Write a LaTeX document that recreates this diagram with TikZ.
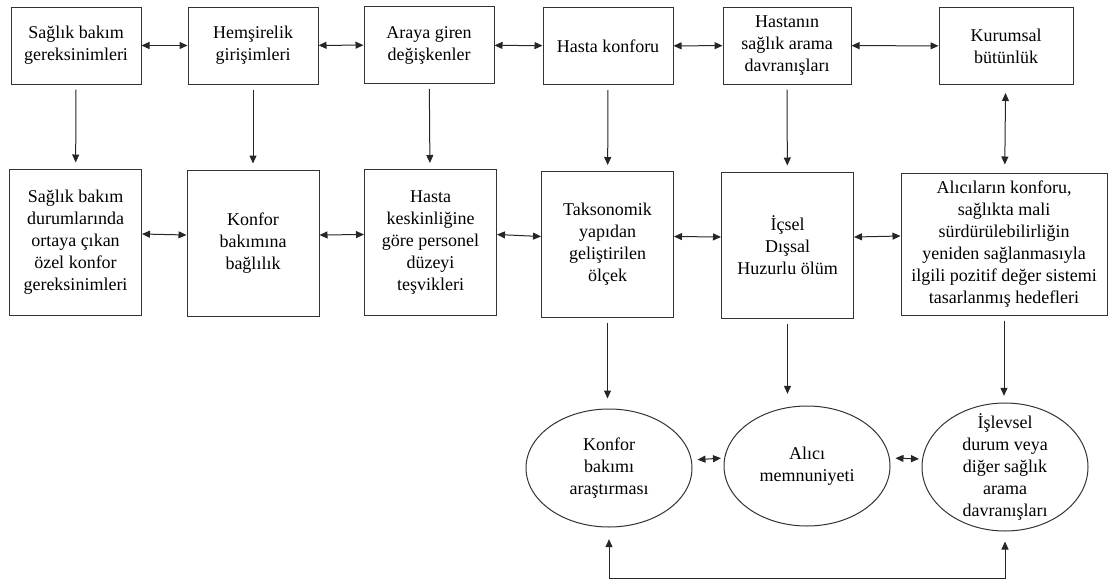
\documentclass[tikz,border=0pt]{standalone}
\usepackage{fontspec}
\setmainfont{Liberation Serif}
\newfontfamily\trserif{Liberation Serif}
\usetikzlibrary{shapes.geometric, arrows.meta, positioning, calc}

\begin{document}
\begin{tikzpicture}[x=0.6pt, y=-0.6pt,
    box/.style={rectangle, draw=black!80, line width=0.6pt, align=center, inner sep=0pt, minimum width=78pt, minimum height=46.2pt, font=\trserif\fontsize{10.8}{13.2}\selectfont},
    tallbox/.style={box, minimum width=79.2pt, minimum height=87.6pt},
    oval/.style={ellipse, draw=black!80, line width=0.6pt, align=center, inner xsep=0pt, inner ysep=-8pt, minimum width=99.6pt, minimum height=70.8pt, font=\trserif\fontsize{10.8}{13.2}\selectfont},
    arrow/.style={-{Triangle[length=4.8pt, width=4.2pt]}, draw=black!85, line width=0.6pt},
    dblarrow/.style={{Triangle[length=4.8pt, width=4.2pt]}-{Triangle[length=4.8pt, width=4.2pt]}, draw=black!85, line width=0.6pt}]

    \useasboundingbox (0,0) rectangle (1114,582);

    % Top row
    \node[box] (t1) at (76,45.5) {Sağlık bakım\\gereksinimleri};
    \node[box] (t2) at (253,45.5) {Hemşirelik\\girişimleri};
    \node[box] (t3) at (429,45) {Araya giren\\değişkenler};
    \node[box] (t4) at (608,46) {Hasta konforu};
    \node[box, minimum width=76.8pt] (t5) at (787,45.5) {Hastanın\\sağlık arama\\davranışları};
    \node[box, minimum width=80.4pt] (t6) at (1006,46) {Kurumsal\\bütünlük};

    % Bottom row
    \node[tallbox] (b1) at (75.5,242) {Sağlık bakım\\durumlarında\\ortaya çıkan\\özel konfor\\gereksinimleri};
    \node[tallbox] (b2) at (253,243) {Konfor\\bakımına\\bağlılık};
    \node[tallbox] (b3) at (430.5,242.5) {Hasta\\keskinliğine\\göre personel\\düzeyi\\teşvikleri};
    \node[tallbox] (b4) at (607.5,244.5) {Taksonomik\\yapıdan\\geliştirilen\\ölçek};
    \node[tallbox] (b5) at (787.5,245) {İçsel\\Dışsal\\Huzurlu ölüm};
    \node[tallbox, minimum width=123.6pt, minimum height=85.2pt] (b6) at (1004,244) {Alıcıların konforu,\\sağlıkta mali\\sürdürülebilirliğin\\yeniden sağlanmasıyla\\ilgili pozitif değer sistemi\\tasarlanmış hedefleri};

    % Outcomes
    \node[oval] (e1) at (609,468) {Konfor\\bakımı\\araştırması};
    \node[oval, minimum height=72pt] (e2) at (807,466) {Alıcı\\memnuniyeti};
    \node[oval, minimum height=76.8pt] (e3) at (1005,467) {İşlevsel\\durum veya\\diğer sağlık\\arama\\davranışları};
    \coordinate (fb) at (800,578);

    % Top row links
    \draw[dblarrow] (t1) -- (t2);
    \draw[dblarrow] (t2) -- (t3);
    \draw[dblarrow] (t3) -- (t4);
    \draw[dblarrow] (t4) -- (t5);
    \draw[dblarrow] (t5) -- (t6);

    % Down links
    \foreach \n in {1,...,5}
        \draw[arrow, shorten <=3pt, shorten >=3.6pt] (t\n) -- (b\n);
    \draw[dblarrow, shorten <=4.8pt, shorten >=4.8pt] (t6) -- (b6);

    % Bottom row links
    \draw[dblarrow] ([yshift=4.8pt]b1.east) -- ([yshift=4.8pt]b2.west);
    \draw[dblarrow] ([yshift=4.8pt]b2.east) -- ([yshift=4.8pt]b3.west);
    \draw[dblarrow] ([yshift=4.8pt]b3.east) -- ([yshift=4.8pt]b4.west);
    \draw[dblarrow] ([yshift=4.8pt]b4.east) -- ([yshift=4.8pt]b5.west);
    \draw[dblarrow] ([yshift=4.8pt]b5.east) -- ([yshift=4.8pt]b6.west);

    % To outcomes
    \draw[arrow, shorten <=3pt, shorten >=6pt] (b4.south) -- (b4.south |- e1.north);
    \draw[arrow, shorten <=3pt, shorten >=7pt] (b5.south) -- (b5.south |- e2.north);
    \draw[arrow, shorten <=3pt, shorten >=4pt] (b6.south) -- (b6.south |- e3.north);

    % Between outcomes
    \draw[dblarrow, shorten <=3pt, shorten >=1.5pt] ([yshift=4.8pt]e1.east) -- ([yshift=4.8pt]e2.west);
    \draw[dblarrow, shorten <=3pt, shorten >=1.5pt] ([yshift=4.8pt]e2.east) -- ([yshift=4.8pt]e3.west);

    % Feedback loop
    \draw[dblarrow, shorten <=7pt, shorten >=6pt] (e1.south) -- (e1.south |- fb) -| (e3.south);

\end{tikzpicture}
\end{document}
